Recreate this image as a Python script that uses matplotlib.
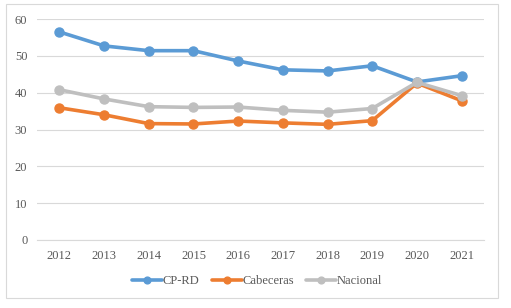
import matplotlib
matplotlib.use("Agg")
import matplotlib.pyplot as plt
from matplotlib.patches import Rectangle

years = [2012, 2013, 2014, 2015, 2016, 2017, 2018, 2019, 2020, 2021]
cprd = [56.5, 52.7, 51.4, 51.4, 48.6, 46.2, 45.9, 47.3, 42.9, 44.6]
cabeceras = [35.9, 34.0, 31.6, 31.5, 32.3, 31.8, 31.4, 32.4, 42.6, 37.8]
nacional = [40.8, 38.3, 36.2, 36.0, 36.1, 35.2, 34.7, 35.7, 42.8, 39.2]
yticks = [0, 10, 20, 30, 40, 50, 60]

plt.rcParams['font.family'] = ['Liberation Serif', 'DejaVu Serif']

fig = plt.figure(figsize=(5.11, 3.08), dpi=100)
fig.patches.append(Rectangle((6/511, 1-298/308), 492/511, 294/308, transform=fig.transFigure,
                             fill=False, edgecolor='#D9D9D9', linewidth=0.8))
ax = fig.add_axes([37/511, 1-240/308, 447/511, 221/308])

series = [("CP-RD", cprd, "#5B9BD5"), ("Cabeceras", cabeceras, "#ED7D31"), ("Nacional", nacional, "#BFBFBF")]
for name, vals, col in series:
    ax.plot(years, vals, color=col, linewidth=2.6, marker='o', markersize=6.5, label=name, solid_capstyle='round')

ax.set_xlim(2011.5, 2021.5)
ax.set_ylim(0, 60)
ax.set_yticks(yticks)
ax.set_xticks(years)
ax.set_xticklabels([str(y) for y in years])
ax.grid(axis='y', color='#D9D9D9', linewidth=0.8)
ax.set_axisbelow(True)
for s in ['top', 'right', 'left']:
    ax.spines[s].set_visible(False)
ax.spines['bottom'].set_color('#D9D9D9')
ax.tick_params(axis='both', length=0, labelsize=9, colors='#595959', pad=7)

leg = fig.legend(loc='center', bbox_to_anchor=(257/511, 1-281/308), ncol=3, frameon=False,
                 fontsize=9, handlelength=2.4, columnspacing=1.0, handletextpad=0.05,
                 markerscale=0.75)
for t in leg.get_texts():
    t.set_color('#595959')

fig.savefig("out.png", dpi=100)
